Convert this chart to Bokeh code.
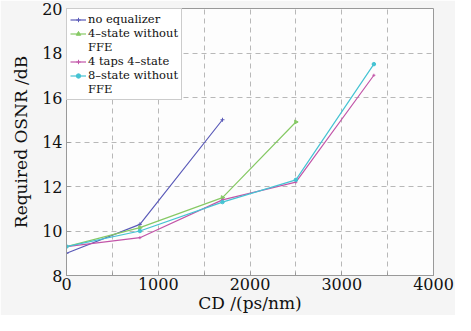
from bokeh.plotting import figure
from bokeh.models import Legend, LegendItem, FixedTicker, Range1d, ColumnDataSource
from bokeh.embed import file_html
from bokeh.resources import INLINE

# ---- data ----
cd_noeq = [0, 800, 1700]
osnr_noeq = [9.0, 10.3, 15.0]

cd_4state = [0, 800, 1700, 2500]
osnr_4state = [9.3, 10.15, 11.5, 14.9]

cd_4taps = [0, 800, 1700, 2500, 3350]
osnr_4taps = [9.3, 9.7, 11.4, 12.2, 17.0]

cd_8state = [0, 800, 1700, 2500, 3350]
osnr_8state = [9.3, 10.0, 11.3, 12.3, 17.5]

x_ticks = [0, 1000, 2000, 3000, 4000]
x_minor = [500, 1500, 2500, 3500]
y_ticks = [8, 10, 12, 14, 16, 18, 20]

FONT = "DejaVu Serif"

p = figure(width=455, height=315, output_backend="svg", toolbar_location=None,
           x_range=Range1d(0, 4000), y_range=Range1d(8, 20),
           min_border_left=66, min_border_right=22, min_border_top=8, min_border_bottom=38,
           background_fill_color="#fdfdfd", border_fill_color="#f5f5f5")

p.outline_line_color = "#999999"
p.outline_line_width = 1

for ax in (p.xaxis[0], p.yaxis[0]):
    ax.major_label_text_font = FONT
    ax.major_label_text_font_size = "16px"
    ax.major_label_text_color = "#111111"
    ax.axis_label_text_font = FONT
    ax.axis_label_text_font_size = "17px"
    ax.axis_label_text_font_style = "normal"
    ax.axis_label_text_color = "#111111"
    ax.axis_line_color = "#999999"
    ax.major_tick_line_color = "#999999"
    ax.major_tick_in = 4
    ax.major_tick_out = 0
    ax.minor_tick_line_color = "#999999"
    ax.minor_tick_in = 3
    ax.minor_tick_out = 0

p.xaxis.ticker = FixedTicker(ticks=x_ticks, minor_ticks=x_minor)
p.xaxis.major_label_standoff = 2
p.yaxis.ticker = FixedTicker(ticks=y_ticks)
p.yaxis.minor_tick_line_color = None
p.yaxis.major_label_standoff = 4
p.xaxis.axis_label = "CD /(ps/nm)"
p.yaxis.axis_label = "Required OSNR /dB"
p.xaxis.axis_label_standoff = 0
p.yaxis.axis_label_standoff = 8

for g in (p.xgrid[0], p.ygrid[0]):
    g.grid_line_color = "#b8b8b8"
    g.grid_line_dash = "5 4"
    g.grid_line_width = 1
p.xgrid[0].minor_grid_line_color = "#b8b8b8"
p.xgrid[0].minor_grid_line_dash = "5 4"
p.xgrid[0].minor_grid_line_width = 1

c_blue = "#5a5ab8"
c_green = "#86c965"
c_mag = "#c255a8"
c_cyan = "#45c3d3"

r1 = p.line(cd_noeq, osnr_noeq, line_color=c_blue, line_width=1.2)
m1 = p.scatter(cd_noeq, osnr_noeq, marker="cross", size=4, line_color=c_blue)

r2 = p.line(cd_4state, osnr_4state, line_color=c_green, line_width=1.2)
m2 = p.scatter(cd_4state, osnr_4state, marker="triangle", angle=-1.5708, size=4,
               line_color=c_green, fill_color=c_green)

r3 = p.line(cd_4taps, osnr_4taps, line_color=c_mag, line_width=1.2)
m3 = p.scatter(cd_4taps, osnr_4taps, marker="cross", size=3, line_color=c_mag)

r4 = p.line(cd_8state, osnr_8state, line_color=c_cyan, line_width=1.2)
m4 = p.scatter(cd_8state, osnr_8state, marker="circle", size=3.5,
               line_color=c_cyan, fill_color=c_cyan)

empty = ColumnDataSource(data=dict(x=[], y=[]))
d1 = p.line("x", "y", source=empty, line_alpha=0)
d2 = p.line("x", "y", source=empty, line_alpha=0)

legend = Legend(items=[
    LegendItem(label="no equalizer", renderers=[r1, m1]),
    LegendItem(label="4–state without", renderers=[r2, m2]),
    LegendItem(label="FFE", renderers=[d1]),
    LegendItem(label="4 taps 4–state", renderers=[r3, m3]),
    LegendItem(label="8–state without", renderers=[r4, m4]),
    LegendItem(label="FFE", renderers=[d2]),
], location="top_left")
legend.margin = 0
legend.padding = 3
legend.spacing = 0
legend.label_height = 11
legend.glyph_height = 11
legend.glyph_width = 16
legend.label_standoff = 2
legend.label_text_font = FONT
legend.label_text_font_size = "11.5px"
legend.label_text_color = "#111111"
legend.label_text_line_height = 1.0
legend.border_line_color = "#999999"
legend.border_line_width = 1
legend.background_fill_color = "#ffffff"
legend.background_fill_alpha = 1.0
p.add_layout(legend, "center")

open("out.html", "w").write(file_html(p, INLINE))
